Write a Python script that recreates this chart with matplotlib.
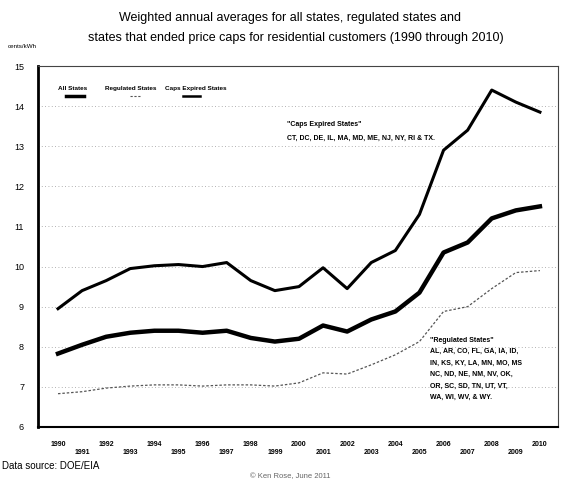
import matplotlib.pyplot as plt
from matplotlib.lines import Line2D

plt.rcParams['font.family'] = ['Liberation Sans', 'DejaVu Sans']

years = list(range(1990, 2011))
caps_expired = [8.95, 9.4, 9.65, 9.95, 10.02, 10.05, 10.0, 10.1, 9.65, 9.4, 9.5,
                9.97, 9.45, 10.1, 10.4, 11.3, 12.9, 13.4, 14.4, 14.1, 13.85]
all_states = [7.83, 8.05, 8.25, 8.35, 8.4, 8.4, 8.35, 8.4, 8.22, 8.13, 8.2,
              8.53, 8.38, 8.68, 8.88, 9.35, 10.35, 10.6, 11.2, 11.4, 11.5]
regulated = [6.83, 6.88, 6.97, 7.02, 7.05, 7.05, 7.02, 7.05, 7.05, 7.02, 7.1,
             7.35, 7.32, 7.55, 7.8, 8.13, 8.88, 9.0, 9.45, 9.85, 9.9]
y_ticks = [6, 7, 8, 9, 10, 11, 12, 13, 14, 15]

caps_note = '"Caps Expired States"\nCT, DC, DE, IL, MA, MD, ME, NJ, NY, RI & TX.'
reg_note = ('"Regulated States"\nAL, AR, CO, FL, GA, IA, ID,\nIN, KS, KY, LA, MN, MO, MS\n'
            'NC, ND, NE, NM, NV, OK,\nOR, SC, SD, TN, UT, VT,\nWA, WI, WV, & WY.')

fig = plt.figure(figsize=(5.63, 4.82), dpi=100)
ax = fig.add_axes([38 / 563, 1 - 427 / 482, 520 / 563, 361 / 482])

ax.plot(years, caps_expired, color='black', lw=2.2)
ax.plot(years, all_states, color='black', lw=3.2)
ax.plot(years, regulated, color='#555555', lw=0.9, ls=(0, (2, 1.5)))

ax.set_xlim(1989.17, 2010.75)
ax.set_ylim(6, 15)
ax.set_yticks(y_ticks)
ax.set_yticklabels([str(v) for v in y_ticks], fontsize=6.5)
ax.yaxis.grid(True, color='#999999', lw=0.6, ls=(0, (1, 3)))
ax.set_axisbelow(True)

even = [y for y in years if y % 2 == 0]
odd = [y for y in years if y % 2 == 1]
ax.set_xticks(even)
ax.set_xticklabels([str(y) for y in even], fontsize=5, fontweight='bold')
ax.set_xticks(odd, minor=True)
ax.set_xticklabels([str(y) for y in odd], minor=True, fontsize=5, fontweight='bold')
ax.tick_params(axis='x', which='major', length=0, pad=10)
ax.tick_params(axis='x', which='minor', length=0, pad=16)
ax.tick_params(axis='y', length=0, pad=10)

ax.spines['left'].set_linewidth(2)
ax.spines['bottom'].set_linewidth(1.5)
for s in ['top', 'right']:
    ax.spines[s].set_linestyle((0, (1, 1)))
    ax.spines[s].set_linewidth(0.8)
    ax.spines[s].set_color('#444444')

# legend drawn by hand
ax.text(1990.0, 14.45, 'All States', fontsize=4.6, fontweight='bold', va='center')
ax.text(1991.95, 14.45, 'Regulated States', fontsize=4.6, fontweight='bold', va='center')
ax.text(1994.45, 14.45, 'Caps Expired States', fontsize=4.6, fontweight='bold', va='center')
ax.add_line(Line2D([1990.33, 1991.08], [14.25, 14.25], color='black', lw=2.5))
ax.add_line(Line2D([1992.99, 1993.4], [14.25, 14.25], color='#555555', lw=0.8, ls=(0, (2, 1.5))))
ax.add_line(Line2D([1995.19, 1995.89], [14.25, 14.25], color='black', lw=1.8))

ax.text(1999.5, 13.62, caps_note, fontsize=5, fontweight='bold', va='top', linespacing=2.2)
ax.text(2005.45, 8.25, reg_note, fontsize=5, fontweight='bold', va='top', linespacing=1.9)

fig.text(0.515, 1 - 18 / 482, 'Weighted annual averages for all states, regulated states and',
         ha='center', va='center', fontsize=9)
fig.text(0.525, 1 - 38 / 482, 'states that ended price caps for residential customers (1990 through 2010)',
         ha='center', va='center', fontsize=9)
fig.text(8 / 563, 1 - 47 / 482, 'cents/kWh', fontsize=4.5, va='center')
fig.text(2 / 563, 1 - 466 / 482, 'Data source: DOE/EIA', fontsize=7, va='center')
fig.text(290 / 563, 1 - 477 / 482, '\u00a9 Ken Rose, June 2011', fontsize=5.5, va='center',
         ha='center', color='#666666')

fig.savefig('out.png', dpi=100)
